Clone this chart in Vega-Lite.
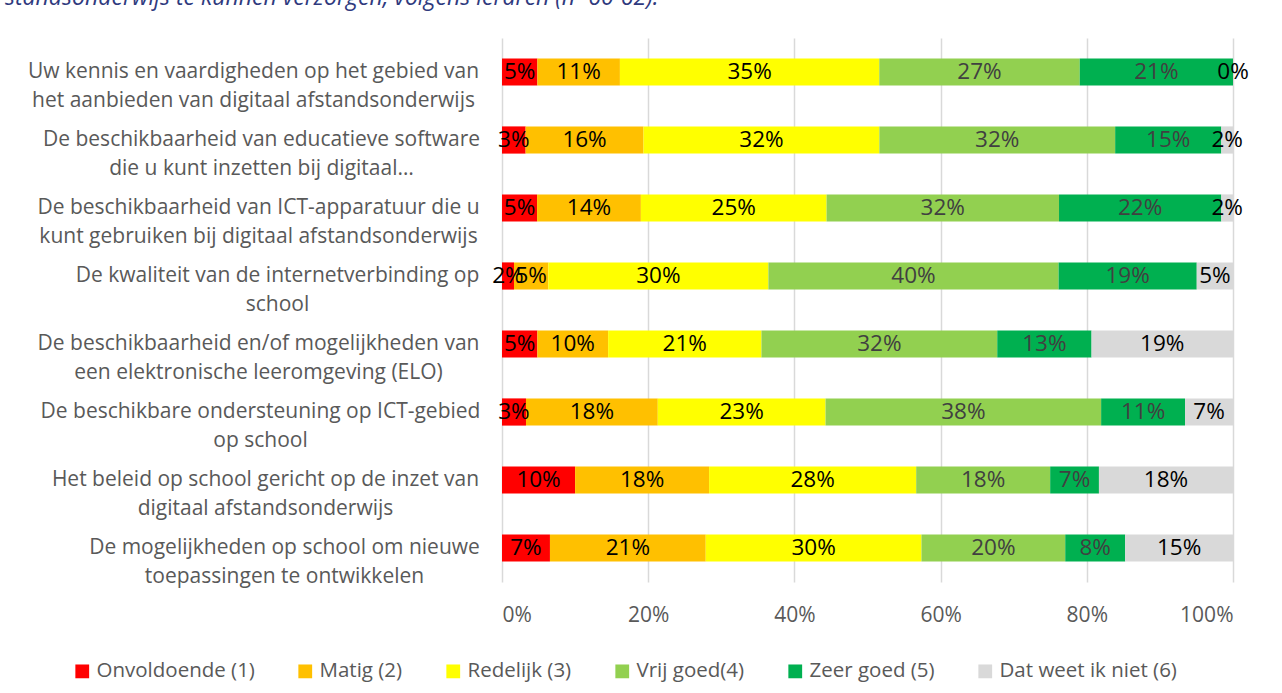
{
  "$schema": "https://vega.github.io/schema/vega-lite/v6.json",
  "autosize": "none",
  "width": 731,
  "height": 544,
  "padding": {"left": 502, "top": 38, "right": 49, "bottom": 111},
  "background": "white",
  "config": {
    "view": {"stroke": null},
    "font": "Open Sans"
  },
  "title": {
    "text": "standsonderwijs te kunnen verzorgen, volgens leraren (n=60-62).",
    "anchor": "start",
    "frame": "group",
    "orient": "top",
    "baseline": "alphabetic",
    "offset": 30,
    "dx": -497,
    "dy": 20,
    "font": "Open Sans",
    "fontStyle": "italic",
    "fontWeight": "normal",
    "fontSize": 23,
    "color": "#2F3A7E"
  },
  "datasets": {
    "rows": [
      {"item": "Uw kennis en vaardigheden op het gebied van|het aanbieden van digitaal afstandsonderwijs", "cat": "Onvoldoende (1)", "code": 1, "v": 0.0484},
      {"item": "Uw kennis en vaardigheden op het gebied van|het aanbieden van digitaal afstandsonderwijs", "cat": "Matig (2)", "code": 2, "v": 0.1129},
      {"item": "Uw kennis en vaardigheden op het gebied van|het aanbieden van digitaal afstandsonderwijs", "cat": "Redelijk (3)", "code": 3, "v": 0.3548},
      {"item": "Uw kennis en vaardigheden op het gebied van|het aanbieden van digitaal afstandsonderwijs", "cat": "Vrij goed(4)", "code": 4, "v": 0.2742},
      {"item": "Uw kennis en vaardigheden op het gebied van|het aanbieden van digitaal afstandsonderwijs", "cat": "Zeer goed (5)", "code": 5, "v": 0.2097},
      {"item": "Uw kennis en vaardigheden op het gebied van|het aanbieden van digitaal afstandsonderwijs", "cat": "Dat weet ik niet (6)", "code": 6, "v": 0.0},

      {"item": "De beschikbaarheid van educatieve software|die u kunt inzetten bij digitaal…", "cat": "Onvoldoende (1)", "code": 1, "v": 0.0323},
      {"item": "De beschikbaarheid van educatieve software|die u kunt inzetten bij digitaal…", "cat": "Matig (2)", "code": 2, "v": 0.1613},
      {"item": "De beschikbaarheid van educatieve software|die u kunt inzetten bij digitaal…", "cat": "Redelijk (3)", "code": 3, "v": 0.3226},
      {"item": "De beschikbaarheid van educatieve software|die u kunt inzetten bij digitaal…", "cat": "Vrij goed(4)", "code": 4, "v": 0.3226},
      {"item": "De beschikbaarheid van educatieve software|die u kunt inzetten bij digitaal…", "cat": "Zeer goed (5)", "code": 5, "v": 0.1452},
      {"item": "De beschikbaarheid van educatieve software|die u kunt inzetten bij digitaal…", "cat": "Dat weet ik niet (6)", "code": 6, "v": 0.0161},

      {"item": "De beschikbaarheid van ICT-apparatuur die u|kunt gebruiken bij digitaal afstandsonderwijs", "cat": "Onvoldoende (1)", "code": 1, "v": 0.048},
      {"item": "De beschikbaarheid van ICT-apparatuur die u|kunt gebruiken bij digitaal afstandsonderwijs", "cat": "Matig (2)", "code": 2, "v": 0.142},
      {"item": "De beschikbaarheid van ICT-apparatuur die u|kunt gebruiken bij digitaal afstandsonderwijs", "cat": "Redelijk (3)", "code": 3, "v": 0.254},
      {"item": "De beschikbaarheid van ICT-apparatuur die u|kunt gebruiken bij digitaal afstandsonderwijs", "cat": "Vrij goed(4)", "code": 4, "v": 0.318},
      {"item": "De beschikbaarheid van ICT-apparatuur die u|kunt gebruiken bij digitaal afstandsonderwijs", "cat": "Zeer goed (5)", "code": 5, "v": 0.222},
      {"item": "De beschikbaarheid van ICT-apparatuur die u|kunt gebruiken bij digitaal afstandsonderwijs", "cat": "Dat weet ik niet (6)", "code": 6, "v": 0.016},

      {"item": "De kwaliteit van de internetverbinding op|school", "cat": "Onvoldoende (1)", "code": 1, "v": 0.0164},
      {"item": "De kwaliteit van de internetverbinding op|school", "cat": "Matig (2)", "code": 2, "v": 0.047},
      {"item": "De kwaliteit van de internetverbinding op|school", "cat": "Redelijk (3)", "code": 3, "v": 0.301},
      {"item": "De kwaliteit van de internetverbinding op|school", "cat": "Vrij goed(4)", "code": 4, "v": 0.397},
      {"item": "De kwaliteit van de internetverbinding op|school", "cat": "Zeer goed (5)", "code": 5, "v": 0.189},
      {"item": "De kwaliteit van de internetverbinding op|school", "cat": "Dat weet ik niet (6)", "code": 6, "v": 0.0496},

      {"item": "De beschikbaarheid en/of mogelijkheden van|een elektronische leeromgeving (ELO)", "cat": "Onvoldoende (1)", "code": 1, "v": 0.0484},
      {"item": "De beschikbaarheid en/of mogelijkheden van|een elektronische leeromgeving (ELO)", "cat": "Matig (2)", "code": 2, "v": 0.0968},
      {"item": "De beschikbaarheid en/of mogelijkheden van|een elektronische leeromgeving (ELO)", "cat": "Redelijk (3)", "code": 3, "v": 0.2097},
      {"item": "De beschikbaarheid en/of mogelijkheden van|een elektronische leeromgeving (ELO)", "cat": "Vrij goed(4)", "code": 4, "v": 0.3226},
      {"item": "De beschikbaarheid en/of mogelijkheden van|een elektronische leeromgeving (ELO)", "cat": "Zeer goed (5)", "code": 5, "v": 0.129},
      {"item": "De beschikbaarheid en/of mogelijkheden van|een elektronische leeromgeving (ELO)", "cat": "Dat weet ik niet (6)", "code": 6, "v": 0.1935},

      {"item": "De beschikbare ondersteuning op ICT-gebied|op school", "cat": "Onvoldoende (1)", "code": 1, "v": 0.0328},
      {"item": "De beschikbare ondersteuning op ICT-gebied|op school", "cat": "Matig (2)", "code": 2, "v": 0.1803},
      {"item": "De beschikbare ondersteuning op ICT-gebied|op school", "cat": "Redelijk (3)", "code": 3, "v": 0.2295},
      {"item": "De beschikbare ondersteuning op ICT-gebied|op school", "cat": "Vrij goed(4)", "code": 4, "v": 0.377},
      {"item": "De beschikbare ondersteuning op ICT-gebied|op school", "cat": "Zeer goed (5)", "code": 5, "v": 0.1148},
      {"item": "De beschikbare ondersteuning op ICT-gebied|op school", "cat": "Dat weet ik niet (6)", "code": 6, "v": 0.0656},

      {"item": "Het beleid op school gericht op de inzet van|digitaal afstandsonderwijs", "cat": "Onvoldoende (1)", "code": 1, "v": 0.1},
      {"item": "Het beleid op school gericht op de inzet van|digitaal afstandsonderwijs", "cat": "Matig (2)", "code": 2, "v": 0.1833},
      {"item": "Het beleid op school gericht op de inzet van|digitaal afstandsonderwijs", "cat": "Redelijk (3)", "code": 3, "v": 0.2833},
      {"item": "Het beleid op school gericht op de inzet van|digitaal afstandsonderwijs", "cat": "Vrij goed(4)", "code": 4, "v": 0.1833},
      {"item": "Het beleid op school gericht op de inzet van|digitaal afstandsonderwijs", "cat": "Zeer goed (5)", "code": 5, "v": 0.0667},
      {"item": "Het beleid op school gericht op de inzet van|digitaal afstandsonderwijs", "cat": "Dat weet ik niet (6)", "code": 6, "v": 0.1834},

      {"item": "De mogelijkheden op school om nieuwe|toepassingen te ontwikkelen", "cat": "Onvoldoende (1)", "code": 1, "v": 0.0656},
      {"item": "De mogelijkheden op school om nieuwe|toepassingen te ontwikkelen", "cat": "Matig (2)", "code": 2, "v": 0.2131},
      {"item": "De mogelijkheden op school om nieuwe|toepassingen te ontwikkelen", "cat": "Redelijk (3)", "code": 3, "v": 0.2951},
      {"item": "De mogelijkheden op school om nieuwe|toepassingen te ontwikkelen", "cat": "Vrij goed(4)", "code": 4, "v": 0.1967},
      {"item": "De mogelijkheden op school om nieuwe|toepassingen te ontwikkelen", "cat": "Zeer goed (5)", "code": 5, "v": 0.082},
      {"item": "De mogelijkheden op school om nieuwe|toepassingen te ontwikkelen", "cat": "Dat weet ik niet (6)", "code": 6, "v": 0.1475}
    ]
  },
  "data": {"name": "rows"},
  "encoding": {
    "y": {
      "field": "item",
      "type": "nominal",
      "sort": null,
      "title": null,
      "scale": {"paddingInner": 0.6, "paddingOuter": 0.3},
      "axis": {
        "domain": false,
        "ticks": false,
        "labelExpr": "split(datum.label, '|')",
        "labelFont": "Open Sans",
        "labelFontSize": 21,
        "labelColor": "#595959",
        "labelLineHeight": 29,
        "labelLimit": 600,
        "labelAlign": "center",
        "labelPadding": {
          "condition": [
            {"test": "indexof(datum.value, 'Uw kennis') >= 0", "value": 249},
            {"test": "indexof(datum.value, 'educatieve') >= 0", "value": 241},
            {"test": "indexof(datum.value, 'ICT-apparatuur') >= 0", "value": 244},
            {"test": "indexof(datum.value, 'internetverbinding') >= 0", "value": 225},
            {"test": "indexof(datum.value, 'ELO') >= 0", "value": 244},
            {"test": "indexof(datum.value, 'ondersteuning') >= 0", "value": 242},
            {"test": "indexof(datum.value, 'beleid') >= 0", "value": 237}
          ],
          "value": 218
        }
      }
    }
  },
  "layer": [
    {
      "mark": {"type": "bar"},
      "encoding": {
        "x": {
          "field": "v",
          "type": "quantitative",
          "stack": "zero",
          "title": null,
          "scale": {"domain": [0, 1], "nice": false},
          "axis": {
            "values": [0, 0.2, 0.4, 0.6, 0.8, 1],
            "format": ".0%",
            "domain": false,
            "ticks": false,
            "grid": true,
            "gridColor": "#D9D9D9",
            "gridWidth": 1.5,
            "labelFont": "Open Sans",
            "labelFontSize": 21,
            "labelColor": "#595959",
            "labelPadding": 22
          }
        },
        "order": {"field": "code", "type": "quantitative"},
        "color": {
          "field": "cat",
          "type": "nominal",
          "scale": {
            "domain": ["Onvoldoende (1)", "Matig (2)", "Redelijk (3)", "Vrij goed(4)", "Zeer goed (5)", "Dat weet ik niet (6)"],
            "range": ["#FF0000", "#FFC000", "#FFFF00", "#92D050", "#00B050", "#D9D9D9"]
          },
          "legend": {
            "title": null,
            "orient": "none",
            "direction": "horizontal",
            "legendX": -430,
            "legendY": 623,
            "symbolType": "square",
            "symbolSize": 190,
            "symbolStrokeWidth": 0,
            "symbolOpacity": 1,
            "labelFont": "Open Sans",
            "labelFontSize": 20.5,
            "labelColor": "#595959",
            "labelOffset": 4,
            "columnPadding": 40,
            "labelLimit": 400
          }
        }
      }
    },
    {
      "transform": [
        {"stack": "v", "groupby": ["item"], "sort": [{"field": "code", "order": "ascending"}], "as": ["v0", "v1"]},
        {"calculate": "(datum.v0 + datum.v1) / 2", "as": "mid"}
      ],
      "mark": {"type": "text", "font": "Open Sans", "fontSize": 22.5, "align": "center", "baseline": "middle"},
      "encoding": {
        "x": {"field": "mid", "type": "quantitative"},
        "text": {"field": "v", "type": "quantitative", "format": ".0%"},
        "color": {
          "condition": {"test": "datum.code == 4 || datum.code == 5", "value": "#404040"},
          "value": "#000000"
        }
      }
    }
  ]
}
